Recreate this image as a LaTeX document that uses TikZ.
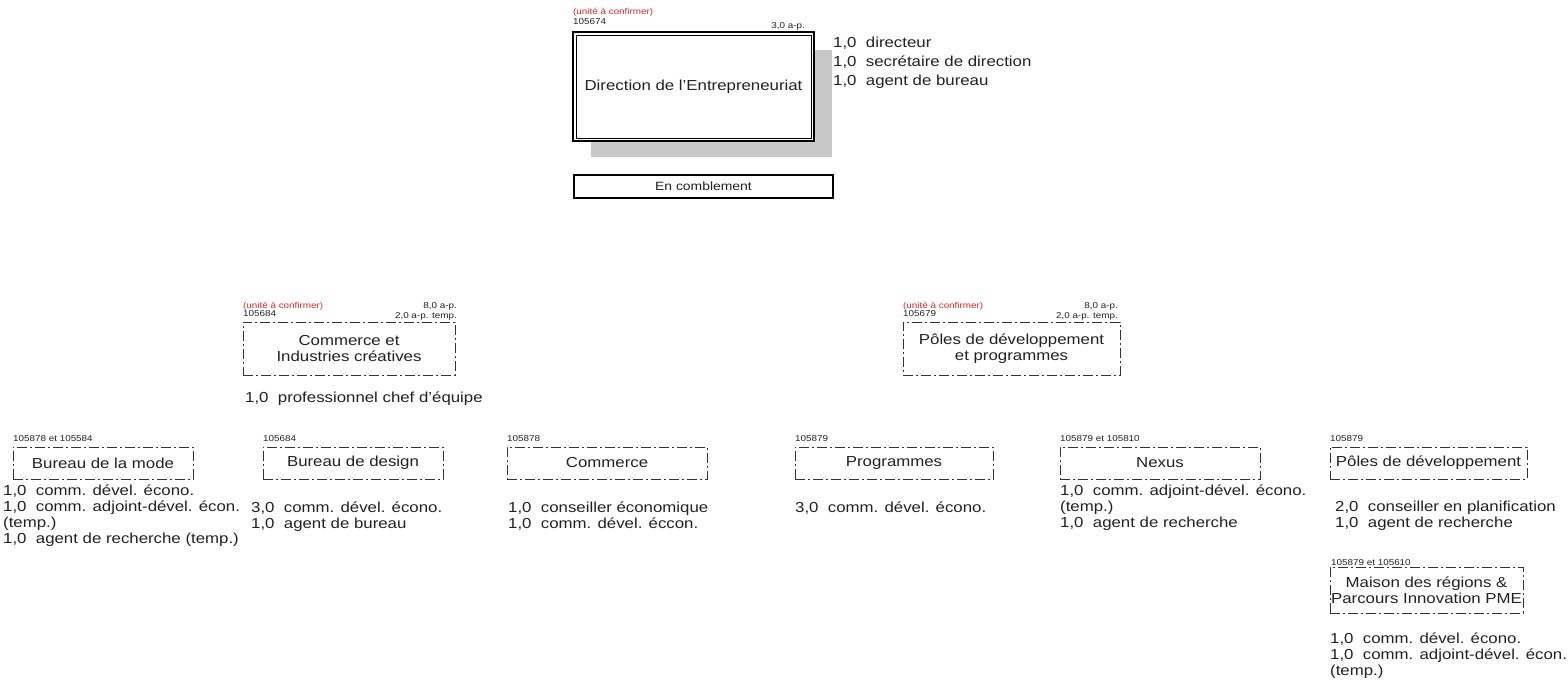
\documentclass[tikz,border=0pt]{standalone}
\usepackage{fontspec}
\setmainfont{Liberation Sans}
\usepackage{graphicx}
\usetikzlibrary{calc}
\definecolor{ink}{HTML}{222222}
\definecolor{redlbl}{HTML}{E8262B}
\definecolor{shade}{HTML}{C8C8C8}
\newcommand{\ws}[1]{\scalebox{1.16}[1]{#1}}
\newcommand{\fmain}{\fontsize{14.5}{16}\selectfont}
\newcommand{\ftiny}{\fontsize{8.5}{9}\selectfont}
\newcommand{\fsmall}{\fontsize{12}{13}\selectfont}
\begin{document}
\begin{tikzpicture}[x=1pt,y=-1pt,
  txt/.style={inner sep=0, text=ink, font=\fmain, anchor=base west},
  tag/.style={inner sep=0, text=ink, font=\ftiny, anchor=base west},
  tagr/.style={tag, anchor=base east},
  unc/.style={tag, text=redlbl},
  dbox/.style={draw=black!80, line width=0.9, dash pattern=on 10pt off 3pt on 2pt off 3pt, inner sep=0, minimum height=32, text=ink, font=\fmain, align=center},
]
\useasboundingbox[fill=white] (0,0) rectangle (1568,698);

% ---- top unit ----
\node[fill=shade, minimum width=241, minimum height=107, inner sep=0] (shadow) at (711.5,103.5) {};
\node[draw=black, line width=2, fill=white, minimum width=241, minimum height=109, inner sep=0, font=\fmain, text=ink] (dir) at (693.5,86.5) {\ws{Direction de l'Entrepreneuriat}};
\draw[line width=0.8] ($(dir.north west)+(4,4)$) rectangle ($(dir.south east)+(-4,-4)$);
\node[unc] (u0) at (573,15) {\ws{(unité à confirmer)}};
\node[tag] (c0) at (573,25) {\ws{105674}};
\node[tagr] (a0) at (805,29) {\ws{3,0 a-p.}};
\node[txt] (d1) at (833,48) {\ws{1,0~~directeur}};
\node[txt] (d2) at (833,67) {\ws{1,0~~secrétaire de direction}};
\node[txt] (d3) at (833,86) {\ws{1,0~~agent de bureau}};
\node[draw=black, line width=1.2, minimum width=259, minimum height=23, inner sep=0, font=\fsmall, text=ink] (enc) at (703.5,186.5) {\ws{En comblement}};

% ---- middle level ----
\node[dbox, minimum width=212, minimum height=53] (cic) at (349,348.5) {\ws{Commerce et}\\\ws{Industries créatives}};
\node[unc] (u1) at (243,308) {\ws{(unité à confirmer)}};
\node[tag] (c1) at (243,316) {\ws{105684}};
\node[tagr] (a1) at (457,308) {\ws{8,0 a-p.}};
\node[tagr] (t1) at (457,318) {\ws{2,0 a-p. temp.}};
\node[txt] (p1) at (245,402) {\ws{1,0~~professionnel chef d'équipe}};

\node[dbox, minimum width=217, minimum height=53] (pdp) at (1011.5,348.5) {\ws{Pôles de développement}\\\ws{et programmes}};
\node[unc] (u2) at (903,308) {\ws{(unité à confirmer)}};
\node[tag] (c2) at (903,316) {\ws{105679}};
\node[tagr] (a2) at (1118,308) {\ws{8,0 a-p.}};
\node[tagr] (t2) at (1118,318) {\ws{2,0 a-p. temp.}};

% ---- bottom level ----
\node[dbox, minimum width=180] (mode) at (103,463) {\ws{Bureau de la mode}};
\node[tag] (cm) at (13,441) {\ws{105878 et 105584}};
\node[txt] (m1) at (3,495) {\ws{1,0~~comm. dével. écono.}};
\node[txt] (m2) at (3,511) {\ws{1,0~~comm. adjoint-dével. écon.}};
\node[txt] (m3) at (3,527) {\ws{(temp.)}};
\node[txt] (m4) at (3,543) {\ws{1,0~~agent de recherche (temp.)}};

\node[dbox, minimum width=180] (design) at (353,463) {\ws{Bureau de design}};
\node[tag] (cd) at (263,441) {\ws{105684}};
\node[txt] (e1) at (251,512) {\ws{3,0~~comm. dével. écono.}};
\node[txt] (e2) at (251,528) {\ws{1,0~~agent de bureau}};

\node[dbox, minimum width=200] (comm) at (607,463) {\ws{Commerce}};
\node[tag] (cc) at (507,441) {\ws{105878}};
\node[txt] (k1) at (508,512) {\ws{1,0~~conseiller économique}};
\node[txt] (k2) at (508,528) {\ws{1,0~~comm. dével. éccon.}};

\node[dbox, minimum width=198] (prog) at (894,463) {\ws{Programmes}};
\node[tag] (cp) at (795,441) {\ws{105879}};
\node[txt] (g1) at (795,512) {\ws{3,0~~comm. dével. écono.}};

\node[dbox, minimum width=200] (nexus) at (1160,463) {\ws{Nexus}};
\node[tag] (cn) at (1060,441) {\ws{105879 et 105810}};
\node[txt] (n1) at (1060,495) {\ws{1,0~~comm. adjoint-dével. écono.}};
\node[txt] (n2) at (1060,511) {\ws{(temp.)}};
\node[txt] (n3) at (1060,527) {\ws{1,0~~agent de recherche}};

\node[dbox, minimum width=197] (poles) at (1428.5,463) {\ws{Pôles de développement}};
\node[tag] (cq) at (1330,441) {\ws{105879}};
\node[txt] (q1) at (1335,511) {\ws{2,0~~conseiller en planification}};
\node[txt] (q2) at (1335,527) {\ws{1,0~~agent de recherche}};

\node[dbox, minimum width=193, minimum height=46] (maison) at (1426.5,590) {\ws{Maison des régions \&}\\\ws{Parcours Innovation PME}};
\node[tag, fill=white, inner xsep=1, inner ysep=1.5] (cs) at (1330,565) {\ws{105879 et 105610}};
\node[txt] (s1) at (1330,643) {\ws{1,0~~comm. dével. écono.}};
\node[txt] (s2) at (1330,659) {\ws{1,0~~comm. adjoint-dével. écon.}};
\node[txt] (s3) at (1330,675) {\ws{(temp.)}};
\end{tikzpicture}
\end{document}
